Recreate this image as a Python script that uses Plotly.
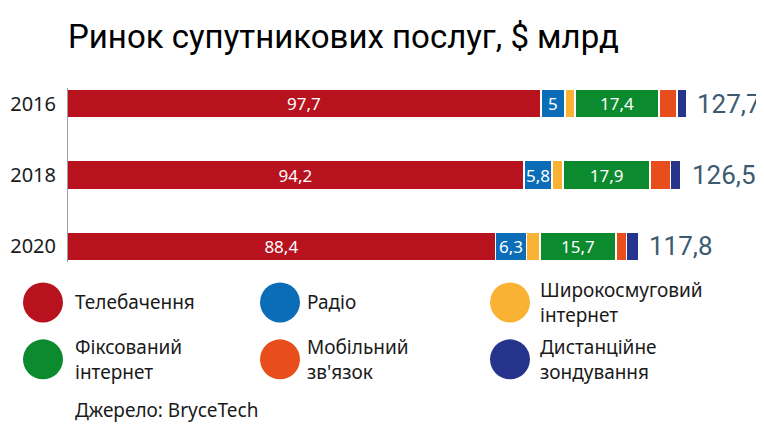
import plotly.graph_objects as go

years = ["2016", "2018", "2020"]
tv = [97.7, 94.2, 88.4]
radio = [5.0, 5.8, 6.3]
broadband = [2.0, 2.3, 2.8]
fixed = [17.4, 17.9, 15.7]
mobile = [3.7, 4.2, 2.2]
remote = [1.9, 2.1, 2.4]
totals = [127.7, 126.5, 117.8]

series = [
    ("Телебачення", tv, "#b8121f", True),
    ("Радіо", radio, "#0b6db7", True),
    ("Широкосмуговий<br>інтернет", broadband, "#f9b233", False),
    ("Фіксований<br>інтернет", fixed, "#0b8a2e", True),
    ("Мобільний<br>зв'язок", mobile, "#e84e1b", False),
    ("Дистанційне<br>зондування", remote, "#27348b", False),
]

# page body has an 8px margin, so shift the whole figure back by it
OFF = 8
W, H = 764, 426
PW, PH = 679, 214.5
L, T = 67 - OFF, 68 - OFF
R, B = W - L - PW, H - T - PH


def px(x):
    return (x - OFF - L) / PW


def py(y):
    return (H - B - (y - OFF)) / PH


def fmt(v):
    return f"{v:g}".replace(".", ",")


fig = go.Figure()
for name, vals, color, labelled in series:
    fig.add_trace(go.Bar(
        y=years, x=vals, orientation="h", name=name,
        marker=dict(color=color, line=dict(color="white", width=1.5)),
        text=[fmt(v) for v in vals] if labelled else None,
        textposition="inside", insidetextanchor="middle", textangle=0,
        textfont=dict(color="white", size=17, family="Noto Sans"),
        constraintext="none", cliponaxis=False,
        hoverinfo="x+name",
    ))

for i, tot in enumerate(totals):
    fig.add_annotation(x=tot, y=i, text=fmt(tot), showarrow=False,
                       xanchor="left", xshift=9,
                       font=dict(size=26, color="#3d5a70", family="Roboto"))

fig.add_shape(type="line", x0=0, x1=0, y0=-0.22, y1=2.22,
              line=dict(color="#a0a0a0", width=2))

fig.add_annotation(xref="paper", yref="paper", x=px(66), y=py(15),
                   xanchor="left", yanchor="top", showarrow=False,
                   text="Ринок супутникових послуг, $ млрд",
                   font=dict(size=33, color="black", family="Roboto"))

# legend
circle_x = [43, 280, 510]
text_x = [73, 305, 538]
rows = [303, 360]
for i, (name, vals, color, labelled) in enumerate(series):
    cx, cy = circle_x[i % 3], rows[i // 3]
    r = 20
    fig.add_shape(type="circle", xref="paper", yref="paper",
                  x0=px(cx - r), x1=px(cx + r), y0=py(cy + r), y1=py(cy - r),
                  fillcolor=color, line=dict(width=0))
    fig.add_annotation(xref="paper", yref="paper", x=px(text_x[i % 3]), y=py(cy),
                       xanchor="left", yanchor="middle", align="left",
                       showarrow=False, text=name,
                       font=dict(size=19, color="#1a1a1a", family="Noto Sans"))

fig.add_annotation(xref="paper", yref="paper", x=px(73), y=py(411),
                   xanchor="left", yanchor="middle", showarrow=False,
                   text="Джерело: BryceTech",
                   font=dict(size=19, color="#1a1a1a", family="Noto Sans"))

fig.update_layout(
    width=W, height=H, barmode="stack", bargap=0.6, showlegend=False,
    plot_bgcolor="white", paper_bgcolor="white",
    margin=dict(l=L, r=R, t=T, b=B),
    separators=", ",
    xaxis=dict(range=[0, 140], visible=False),
    yaxis=dict(type="category", range=[2.5, -0.5], showgrid=False,
               zeroline=False, ticks="", ticklabelstandoff=10, automargin=False,
               tickfont=dict(size=20, color="#1a1a1a", family="Noto Sans")),
)

fig.write_html("out.html")
